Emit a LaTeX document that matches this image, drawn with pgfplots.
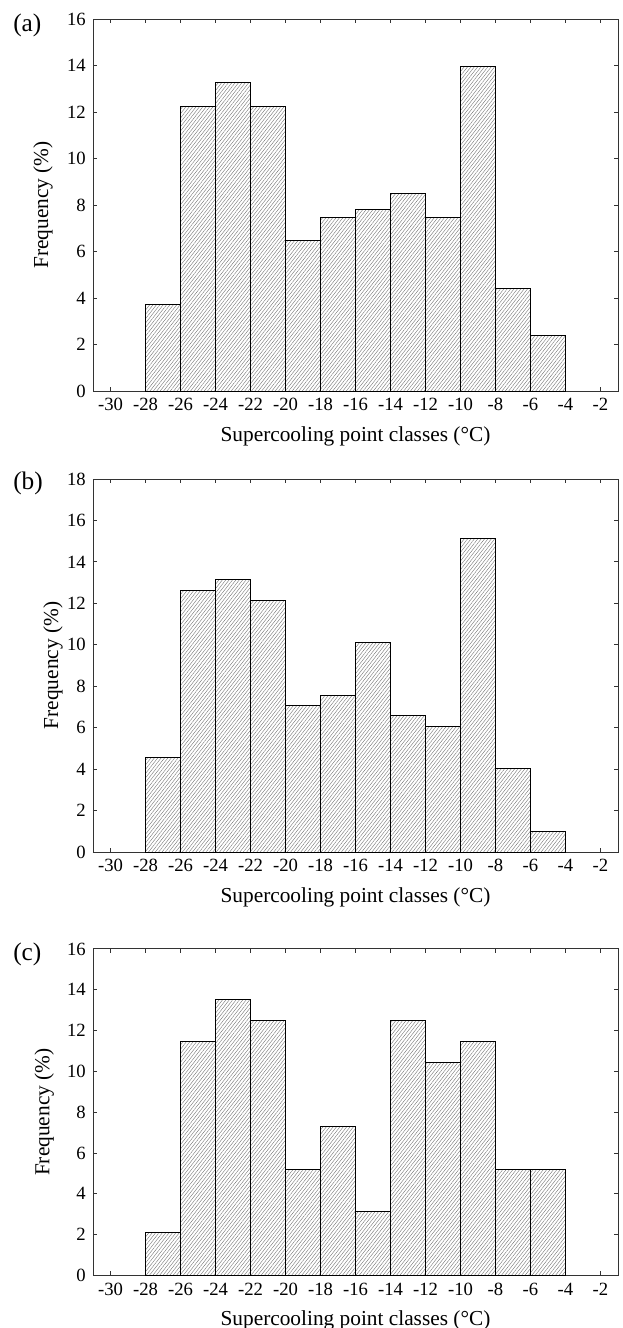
\documentclass[border=0pt]{standalone}
\usepackage{fontspec}
\setmainfont{Liberation Serif}
\usepackage{pgfplots}
\pgfplotsset{compat=1.18}
\usetikzlibrary{patterns.meta}

% 1 px of the reference = 0.75pt
\pgfplotsset{
  hist/.style={
    scale only axis, width=393.75pt,
    xmin=-31, xmax=-1, ymin=0,
    xtick={-30,-28,...,-2},
    xticklabels={-30,-28,-26,-24,-22,-20,-18,-16,-14,-12,-10,-8,-6,-4,-2},
    tick align=inside, tick pos=both, major tick length=3pt,
    axis line style={black!80, line width=0.7pt},
    every tick/.style={black!80, line width=0.7pt},
    /pgf/number format/assume math mode=true,
    tick label style={font=\fontsize{14}{16}\selectfont},
    xticklabel style={anchor=north, inner sep=0pt, yshift=-5.25pt},
    yticklabel style={anchor=east, inner sep=0pt, xshift=-5.25pt},
    xlabel={Supercooling point classes (°C)},
    ylabel={Frequency (\%)},
    every axis x label/.style={at={(axis description cs:0.5,0)}, anchor=base,
      yshift=-37.5pt, font=\fontsize{16}{19}\selectfont},
  },
  ylab/.style={every axis y label/.style={at={(axis description cs:#1,0.5)},
      rotate=90, anchor=center, font=\fontsize{16}{19}\selectfont}},
  bars/.style={ybar interval, draw=black, line width=0.75pt,
    pattern={Lines[angle=52,distance=2pt,line width=0.3pt]}, pattern color=black!55},
}

\begin{document}
\begin{tikzpicture}
\useasboundingbox (0,0) rectangle (466.5pt,-996pt);

% (a)  n = 294
\begin{axis}[hist, ylab=-0.095, at={(69.75pt,-293.25pt)}, anchor=south west,
  height=279pt, ymax=16, ytick={0,2,...,16}]
\addplot[bars] coordinates {
(-28,3.741)(-26,12.245)(-24,13.265)(-22,12.245)(-20,6.463)(-18,7.483)
(-16,7.823)(-14,8.503)(-12,7.483)(-10,13.946)(-8,4.422)(-6,2.381)(-4,0)
};
\end{axis}

% (b)  n = 198
\begin{axis}[hist, ylab=-0.076, at={(69.75pt,-639pt)}, anchor=south west,
  height=279.75pt, ymax=18, ytick={0,2,...,18}]
\addplot[bars] coordinates {
(-28,4.545)(-26,12.626)(-24,13.131)(-22,12.121)(-20,7.071)(-18,7.576)
(-16,10.101)(-14,6.566)(-12,6.061)(-10,15.152)(-8,4.040)(-6,1.010)(-4,0)
};
\end{axis}

% (c)  n = 96
\begin{axis}[hist, ylab=-0.093, at={(69.75pt,-956.6pt)}, anchor=south west,
  height=244.9pt, ymax=16, ytick={0,2,...,16}]
\addplot[bars] coordinates {
(-28,2.083)(-26,11.458)(-24,13.542)(-22,12.5)(-20,5.208)(-18,7.292)
(-16,3.125)(-14,12.5)(-12,10.417)(-10,11.458)(-8,5.208)(-6,5.208)(-4,0)
};
\end{axis}

\node[anchor=base west, inner sep=0pt, font=\fontsize{19}{22}\selectfont] at (9.75pt,-23.5pt) {(a)};
\node[anchor=base west, inner sep=0pt, font=\fontsize{19}{22}\selectfont] at (9.75pt,-367pt) {(b)};
\node[anchor=base west, inner sep=0pt, font=\fontsize{19}{22}\selectfont] at (9.75pt,-720.25pt) {(c)};
\end{tikzpicture}
\end{document}
